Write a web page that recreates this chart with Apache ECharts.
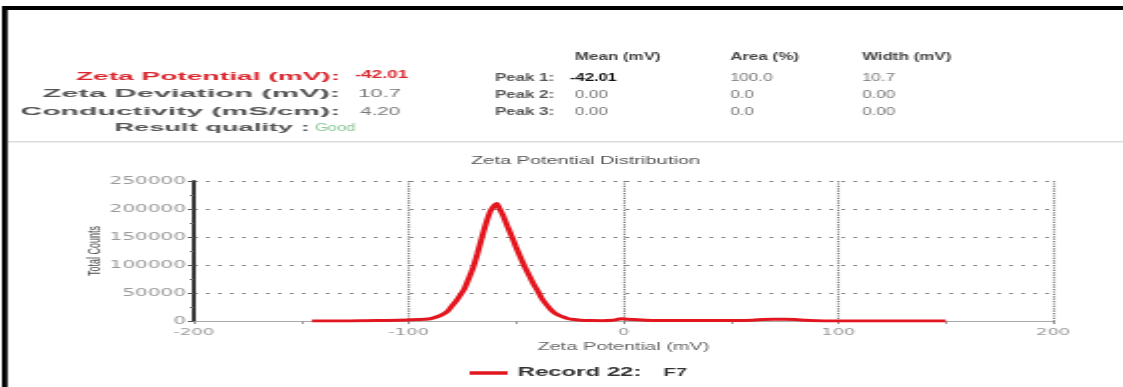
<!DOCTYPE html>
<html>
<head>
<meta charset="utf-8">
<script src="https://cdn.jsdelivr.net/npm/echarts@6/dist/echarts.min.js"></script>
<style>
  html, body { margin: 0; padding: 0; background: #fff; overflow: hidden; }
  /* the report is laid out at half width and stretched horizontally */
  #chart { width: 562px; height: 387px; transform: scaleX(1.99822); transform-origin: 0 0; }
</style>
</head>
<body>
<div id="chart"></div>
<script>
// Zeta potential (mV) and total counts of the distribution
const zeta = [-145, -140, -130, -120, -110, -100, -95, -90, -88, -85,
  -82, -80, -78, -76, -74, -72, -70, -68, -66, -64,
  -62, -60, -59, -58, -56, -54, -52, -50, -48, -46,
  -44, -42, -40, -38, -36, -34, -32, -30, -28, -26,
  -24, -20, -15, -10, -5, -2, 0, 2, 5, 10,
  20, 30, 40, 50, 60, 65, 70, 75, 80, 85,
  90, 95, 100, 110, 120, 130, 140, 150];
const counts = [0, 0, 0, 500, 1000, 2000, 2500, 4000, 6000, 10000,
  17000, 26000, 35000, 46000, 58000, 76000, 95000, 120000, 148000, 174000,
  196000, 207000, 210000, 203000, 188000, 169000, 151000, 132000, 114000, 97000,
  82000, 67000, 54000, 40000, 30000, 21000, 14000, 10000, 7000, 4500,
  3000, 1500, 800, 600, 1500, 3500, 4000, 3000, 2500, 1500,
  1000, 800, 800, 1000, 1500, 2500, 3000, 3000, 2500, 1200,
  500, 0, 0, 0, 0, 0, 0, 0];

// Axis ticks
const xTicks = [-200, -100, 0, 100, 200];
const yTicks = [0, 50000, 100000, 150000, 200000, 250000];

// Result summary
const summaryLabels = ['Zeta Potential (mV):', 'Zeta Deviation (mV):', 'Conductivity (mS/cm):', 'Result quality :'];
const summaryValues = ['-42.01', '10.7', '4.20', 'Good'];

// Peak table
const peakColumns = ['Mean (mV)', 'Area (%)', 'Width (mV)'];
const peakNames = ['Peak 1:', 'Peak 2:', 'Peak 3:'];
const peakMeans = ['-42.01', '0.00', '0.00'];
const peakAreas = ['100.0', '0.0', '0.0'];
const peakWidths = ['10.7', '0.00', '0.00'];

const seriesName = 'Record 22:';
const sampleName = 'F7';
const chartTitle = 'Zeta Potential Distribution';
const xTitle = 'Zeta Potential (mV)';
const yTitle = 'Total Counts';

const FONT = "'Liberation Sans', Arial, sans-serif";
const AXIS_FONT = "'DejaVu Sans', sans-serif";

function label(x, y, text, fill, weight, size, align, sx) {
  return {
    type: 'text', x: x, y: y, scaleX: sx, z: 10,
    style: {
      text: text, fill: fill,
      font: weight + ' ' + size + 'px ' + FONT,
      textAlign: align, textVerticalAlign: 'middle'
    }
  };
}

const graphics = [];
// page frame and separator
graphics.push({ type: 'rect', shape: { x: 1, y: 6, width: 561, height: 4 }, style: { fill: '#000' } });
graphics.push({ type: 'rect', shape: { x: 1, y: 6, width: 2.8, height: 400 }, style: { fill: '#000' } });
graphics.push({ type: 'rect', shape: { x: 4, y: 141, width: 558, height: 1.6 }, style: { fill: '#dcdcdc' } });

// summary block
const sumRowY = [77, 94, 112, 128];
const sumLabelRight = [170.2, 170.2, 170.2, 155];
const sumLabelScale = [1.28, 1.4, 1.37, 1.24];
const sumValueX = [177.7, 179.2, 180.2, 157.7];
const sumValueScale = [0.85, 1.0, 0.93, 0.75];
summaryLabels.forEach((t, i) => {
  graphics.push(label(sumLabelRight[i], sumRowY[i], t, i === 0 ? '#d9262e' : '#555', 'bold', 10.5, 'right', sumLabelScale[i] * 11 / 10.5));
});
summaryValues.forEach((t, i) => {
  const color = i === 0 ? '#d9262e' : (i === 3 ? '#86c495' : '#777');
  graphics.push(label(sumValueX[i], i === 0 ? 75 : sumRowY[i], t, color, i === 0 ? 'bold' : 'normal', 11, 'left', sumValueScale[i]));
});

// peak table
const colX = [287.8, 365.4, 431.4];
const rowY = [78, 95, 112];
const tsx = 0.77;
peakColumns.forEach((t, i) => graphics.push(label(colX[i], 57, t, '#444', 'bold', 11, 'left', tsx)));
peakNames.forEach((t, i) => graphics.push(label(247.7, rowY[i], t, '#555', 'bold', 11, 'left', tsx)));
peakMeans.forEach((t, i) => {
  const first = i === 0;
  graphics.push(label(first ? 285.3 : colX[0], rowY[i], t, first ? '#111' : '#777', first ? 'bold' : 'normal', 11, 'left', first ? 0.75 : tsx));
});
peakAreas.forEach((t, i) => graphics.push(label(colX[1], rowY[i], t, '#777', 'normal', 11, 'left', tsx)));
peakWidths.forEach((t, i) => graphics.push(label(colX[2], rowY[i], t, '#777', 'normal', 11, 'left', tsx)));

const chart = echarts.init(document.getElementById('chart'));
chart.setOption({
  animation: false,
  backgroundColor: '#fff',
  title: {
    text: chartTitle,
    left: 288, top: 151, textAlign: 'center',
    textStyle: { fontSize: 10, fontWeight: 'normal', color: '#555', fontFamily: FONT }
  },
  legend: {
    left: 230, top: 362,
    icon: 'rect', itemWidth: 19, itemHeight: 3.5,
    data: [seriesName],
    formatter: name => '{a|' + name + '}{b|' + sampleName + '}',
    textStyle: {
      rich: {
        a: { fontSize: 12, fontWeight: 'bold', color: '#333', fontFamily: FONT },
        b: { fontSize: 10, fontWeight: 'bold', color: '#333', fontFamily: FONT, padding: [0, 0, 0, 11] }
      }
    }
  },
  grid: { left: 97, right: 35, top: 181, bottom: 66 },
  xAxis: {
    type: 'value',
    position: 'bottom',
    min: xTicks[0], max: xTicks[xTicks.length - 1], interval: xTicks[1] - xTicks[0],
    name: xTitle, nameLocation: 'middle', nameGap: 21, nameMoveOverlap: false,
    nameTextStyle: { fontSize: 10, color: '#666', fontFamily: FONT },
    axisLine: { show: true, onZero: false, lineStyle: { color: '#aaa', width: 1 } },
    axisTick: { show: true, length: 3, lineStyle: { color: '#888' } },
    minorTick: { show: true, splitNumber: 2, length: 3, lineStyle: { color: '#999' } },
    splitLine: { show: true, showMinLine: false, lineStyle: { type: 'dotted', color: '#777', width: 1.2 } },
    axisLabel: { fontSize: 9, color: '#999', fontFamily: AXIS_FONT, margin: 7 }
  },
  yAxis: {
    type: 'value',
    position: 'left',
    min: yTicks[0], max: yTicks[yTicks.length - 1], interval: yTicks[1] - yTicks[0],
    name: yTitle, nameLocation: 'middle', nameGap: 45, nameMoveOverlap: false,
    nameTextStyle: { fontSize: 9, color: '#444', fontFamily: FONT },
    axisLine: { show: true, onZero: false, lineStyle: { color: '#333', width: 2 } },
    axisTick: { show: true, length: 3, lineStyle: { color: '#555' } },
    minorTick: { show: true, splitNumber: 2, length: 2, lineStyle: { color: '#666' } },
    splitLine: { show: true, lineStyle: { type: [2, 4], color: '#888', width: 1.2 } },
    axisLabel: { fontSize: 10, color: '#999', fontFamily: AXIS_FONT, margin: 4, formatter: v => String(v) }
  },
  series: [{
    name: seriesName,
    type: 'line',
    data: zeta.map((z, i) => [z, counts[i]]),
    showSymbol: false,
    smooth: 0.2,
    color: '#e2161f',
    lineStyle: { color: '#e2161f', width: 3 },
    z: 5
  }],
  graphic: { elements: graphics }
});
</script>
</body>
</html>
